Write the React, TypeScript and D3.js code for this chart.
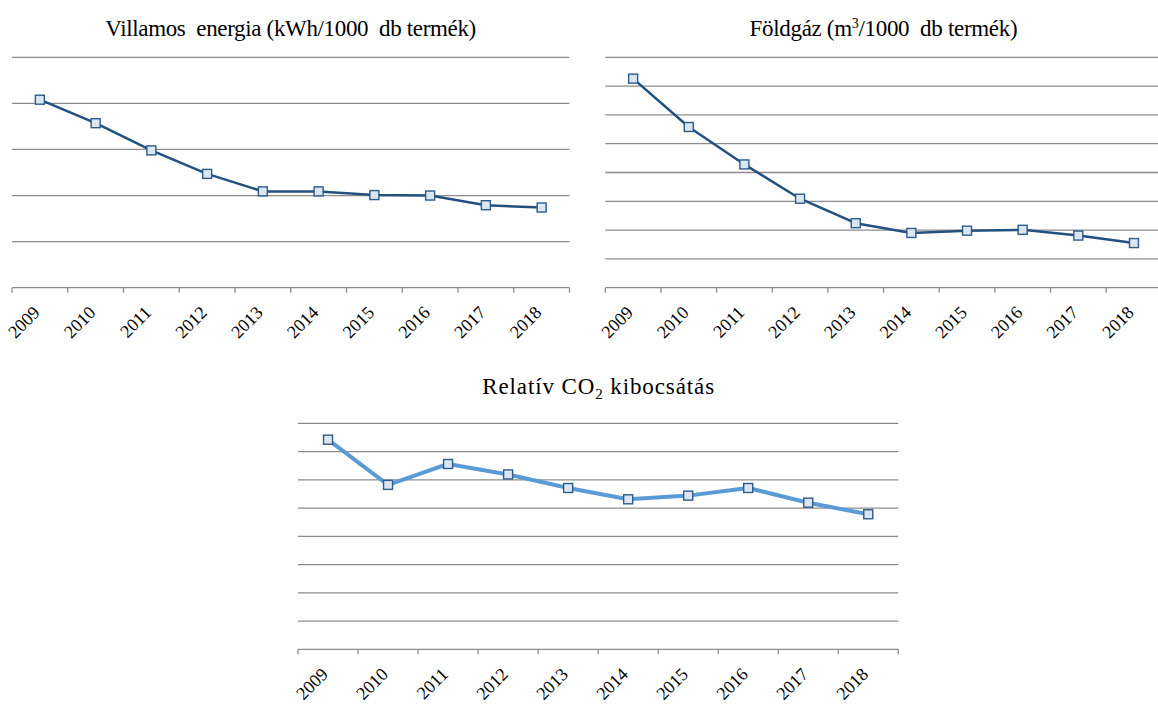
import React, { useEffect, useRef } from "react";
import * as d3 from "d3";

const years = ["2009", "2010", "2011", "2012", "2013", "2014", "2015", "2016", "2017", "2018"];
const villamos = [4.08, 3.57, 2.98, 2.47, 2.09, 2.09, 2.01, 2.0, 1.79, 1.74];
const foldgaz = [7.26, 5.58, 4.28, 3.09, 2.24, 1.9, 1.98, 2.01, 1.81, 1.55];
const co2 = [7.42, 5.82, 6.56, 6.19, 5.71, 5.31, 5.44, 5.71, 5.19, 4.78];

const GRID = "#8c8c8c";
const FONT = '"Liberation Serif", "Times New Roman", "DejaVu Serif", serif';

interface Panel {
  values: number[];
  yMax: number;
  x0: number;
  x1: number;
  yTop: number;
  yBottom: number;
  color: string;
  lineWidth: number;
  title: (t: d3.Selection<SVGTextElement, unknown, null, undefined>) => void;
  titleY: number;
  titleLen: number;
}

const panels: Panel[] = [
  {
    values: villamos,
    yMax: 5,
    x0: 12,
    x1: 569.5,
    yTop: 57.3,
    yBottom: 287.7,
    color: "#22507f",
    lineWidth: 2.5,
    titleY: 36,
    titleLen: 371,
    title: (t) => {
      t.append("tspan").text("Villamos  energia (kWh/1000  db termék)");
    },
  },
  {
    values: foldgaz,
    yMax: 8,
    x0: 605.3,
    x1: 1161.8,
    yTop: 57.3,
    yBottom: 287.7,
    color: "#22507f",
    lineWidth: 2.5,
    titleY: 36,
    titleLen: 268,
    title: (t) => {
      t.append("tspan").text("Földgáz (m");
      t.append("tspan").style("font-size", "14px").attr("dy", -8).text("3");
      t.append("tspan").attr("dy", 8).text("/1000  db termék)");
    },
  },
  {
    values: co2,
    yMax: 8,
    x0: 298,
    x1: 898.3,
    yTop: 423.3,
    yBottom: 649.3,
    color: "#5b9bd5",
    lineWidth: 4,
    titleY: 394,
    titleLen: 232,
    title: (t) => {
      t.append("tspan").text("Relatív CO");
      t.append("tspan").style("font-size", "15px").attr("dy", 5).text("2");
      t.append("tspan").attr("dy", -5).text(" kibocsátás");
    },
  },
];

const App: React.FC = () => {
  const svgRef = useRef<SVGSVGElement | null>(null);

  useEffect(() => {
    const svg = d3.select(svgRef.current);
    svg.selectAll("*").remove();

    panels.forEach((p) => {
      const g = svg.append("g");
      const xScale = d3.scaleBand().domain(years).range([p.x0, p.x1]).padding(0);
      const yScale = d3.scaleLinear().domain([0, p.yMax]).range([p.yBottom, p.yTop]);
      const cx = (d: string) => (xScale(d) || 0) + xScale.bandwidth() / 2;

      // gridlines
      g.selectAll(".grid")
        .data(d3.range(1, p.yMax + 1))
        .enter()
        .append("line")
        .attr("x1", p.x0)
        .attr("x2", p.x1)
        .attr("y1", (d) => yScale(d))
        .attr("y2", (d) => yScale(d))
        .attr("stroke", GRID)
        .attr("stroke-width", 1.3);

      // category axis
      g.append("line")
        .attr("x1", p.x0)
        .attr("x2", p.x1)
        .attr("y1", yScale(0))
        .attr("y2", yScale(0))
        .attr("stroke", GRID)
        .attr("stroke-width", 1.3);

      g.selectAll(".tick")
        .data(d3.range(years.length + 1))
        .enter()
        .append("line")
        .attr("x1", (i) => p.x0 + i * xScale.step())
        .attr("x2", (i) => p.x0 + i * xScale.step())
        .attr("y1", yScale(0))
        .attr("y2", yScale(0) + 5)
        .attr("stroke", GRID)
        .attr("stroke-width", 1.3);

      g.selectAll(".lbl")
        .data(years)
        .enter()
        .append("text")
        .attr("transform", (d) => `translate(${cx(d) + 1}, ${yScale(0) + 26}) rotate(-45)`)
        .attr("text-anchor", "end")
        .style("font-family", FONT)
        .style("font-size", "18px")
        .attr("fill", "#000")
        .text((d) => d);

      // series line
      const line = d3
        .line<number>()
        .x((_, i) => cx(years[i]))
        .y((d) => yScale(d));

      g.append("path")
        .datum(p.values)
        .attr("d", line)
        .attr("fill", "none")
        .attr("stroke", p.color)
        .attr("stroke-width", p.lineWidth)
        .attr("stroke-linejoin", "round");

      g.selectAll(".marker")
        .data(p.values)
        .enter()
        .append("rect")
        .attr("x", (_, i) => cx(years[i]) - 4.5)
        .attr("y", (d) => yScale(d) - 4.5)
        .attr("width", 9)
        .attr("height", 9)
        .attr("fill", "#dce6f2")
        .attr("stroke", "#2c5b8c")
        .attr("stroke-width", 1.4);

      // title
      const t = g
        .append("text")
        .attr("x", (p.x0 + p.x1) / 2)
        .attr("y", p.titleY)
        .attr("text-anchor", "middle")
        .style("font-family", FONT)
        .style("font-size", "23px")
        .style("white-space", "pre")
        .attr("textLength", p.titleLen)
        .attr("lengthAdjust", "spacing")
        .attr("fill", "#000");
      p.title(t);
    });
  }, []);

  return (
    <div style={{ position: "absolute", left: 0, top: 0 }}>
      <svg ref={svgRef} width={1158} height={704} style={{ display: "block", background: "#fff" }}></svg>
    </div>
  );
};

export default App;
